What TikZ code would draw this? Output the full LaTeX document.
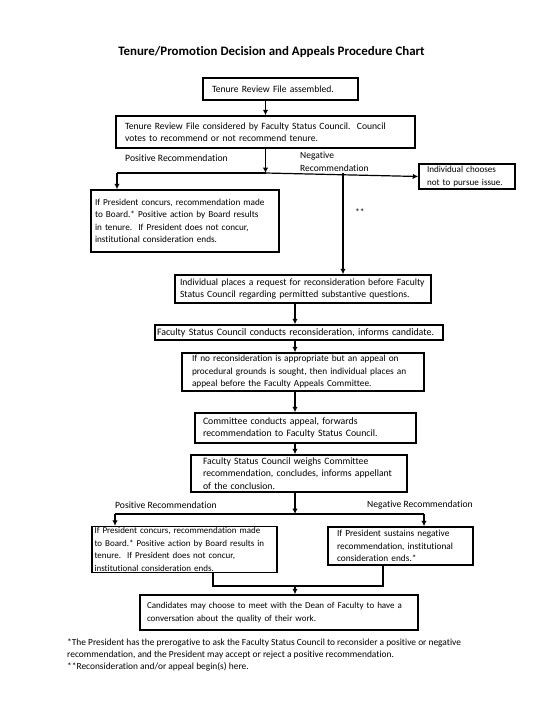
\documentclass[tikz,border=0pt]{standalone}
\usepackage{fontspec}
\setmainfont{Carlito}[Ligatures=NoCommon]
\usetikzlibrary{arrows.meta}
\begin{document}
\begin{tikzpicture}[x=1pt,y=-1pt,
  fs/.style={font=\fontsize{#1}{12.5}\selectfont},
  every node/.style={fs=9.5},
  box/.style={draw,line width=1.5pt,align=left,inner ysep=1pt,anchor=center},
  conn/.style={line width=1.2pt},
  arr/.style={conn,-{Latex[length=5.5pt,width=5.5pt]}},
  lbl/.style={anchor=west,inner sep=0pt,align=left}]
\useasboundingbox (0,0) rectangle (550,712);
\node[inner sep=0pt,font=\fontsize{12.9}{14}\selectfont\bfseries] (title) at (271.5,52) {Tenure/Promotion Decision and Appeals Procedure Chart};
\node[box,fs=9.6,minimum width=155,minimum height=22,inner xsep=9,text width=137] (b1) at (280.5,89) {Tenure Review File assembled.};
\node[box,fs=9.6,minimum width=299,minimum height=32,inner xsep=9,text width=281] (b2) at (265.5,132) {Tenure Review File considered by Faculty Status Council.\ \ Council\\votes to recommend or not recommend tenure.};
\node[box,fs=9.2,minimum width=188,minimum height=62,inner xsep=4,text width=180] (b3) at (185,221) {If President concurs, recommendation made\\to Board.* Positive action by Board results\\in tenure.\ \ If President does not concur,\\institutional consideration ends.};
\node[box,fs=9.1,minimum width=96,minimum height=25,inner xsep=8,text width=80] (bi) at (467,176.5) {Individual chooses\\not to pursue issue.};
\node[box,fs=9.6,minimum width=256,minimum height=28,inner xsep=5,text width=246] (b4) at (303,289) {Individual places a request for reconsideration before Faculty\\Status Council regarding permitted substantive questions.};
\node[box,fs=9.9,minimum width=288,minimum height=15,inner xsep=2,text width=284] (b5) at (299,332.5) {Faculty Status Council conducts reconsideration, informs candidate.};
\node[box,fs=9.3,minimum width=242,minimum height=38,inner xsep=10,text width=222] (b6) at (303,372) {If no reconsideration is appropriate but an appeal on\\procedural grounds is sought, then individual places an\\appeal before the Faculty Appeals Committee.};
\node[box,fs=9.8,minimum width=221,minimum height=30,inner xsep=8,text width=205] (b7) at (305.5,428) {Committee conducts appeal, forwards\\recommendation to Faculty Status Council.};
\node[box,fs=9.7,minimum width=216,minimum height=37,inner xsep=12,text width=192] (b8) at (299,473.5) {Faculty Status Council weighs Committee\\recommendation, concludes, informs appellant\\of the conclusion.};
\node[box,fs=9.0,minimum width=185,minimum height=43,inner xsep=2.5,text width=180] (b9) at (184.5,549.5) {If President concurs, recommendation made\\to Board.* Positive action by Board results in\\tenure.\ \ If President does not concur,\\institutional consideration ends.};
\node[box,fs=9.3,minimum width=145,minimum height=38,inner xsep=9,text width=127] (b10) at (400.5,546) {If President sustains negative\\recommendation, institutional\\consideration ends.*};
\node[box,fs=9.0,minimum width=278,minimum height=35,inner xsep=7,text width=264] (b11) at (279,612.5) {Candidates may choose to meet with the Dean of Faculty to have a\\conversation about the quality of their work.};
\node[lbl,anchor=north west,font=\fontsize{9.4}{11.6}\selectfont] (foot) at (67,639) {*The President has the prerogative to ask the Faculty Status Council to reconsider a positive or negative\\recommendation, and the President may accept or reject a positive recommendation.\\**Reconsideration and/or appeal begin(s) here.};
% labels
\node[lbl,fs=9.7] (pos1) at (125,158) {Positive Recommendation};
\node[lbl,fs=9.5] (neg1) at (300,162) {Negative\\Recommendation};
\node[lbl] (stars) at (355,212) {**};
\node[lbl,fs=9.6] (pos2) at (115,505) {Positive Recommendation};
\node[lbl,fs=9.6] (neg2) at (367,505) {Negative Recommendation};
% coordinates
\coordinate (j1) at (265.5,173);
\coordinate (jl) at (117,173);
\coordinate (jn) at (343,173);
\coordinate (sp) at (295,0);
\coordinate (j2) at (295,514);
\coordinate (j2l) at (115,514);
\coordinate (j2r) at (424,514);
\coordinate (j3l) at (213,586);
\coordinate (j3r) at (383,586);
\coordinate (j3) at (295,586);
% connectors
\draw[arr] (b1.south -| b2.north) -- (b2.north);
\draw[arr] (b2.south) -- (j1);
\draw[conn] (jl) -- (j1);
\draw[arr] (j1) -- (bi.west);
\draw[arr] (jl) -- (jl |- b3.north);
\draw[arr] (jn) -- (jn |- b4.north);
\draw[arr] (b4.south -| sp) -- (b5.north -| sp);
\draw[arr] (b5.south -| sp) -- (b6.north -| sp);
\draw[arr] (b6.south -| sp) -- (b7.north -| sp);
\draw[arr] (b7.south -| sp) -- (b8.north -| sp);
\draw[arr] (b8.south -| sp) -- (j2);
\draw[conn] (j2l) -- (j2r);
\draw[arr] (j2l) -- (j2l |- b9.north);
\draw[arr] (j2r) -- (j2r |- b10.north);
\draw[conn] (j3l |- b9.south) -- (j3l) -- (j3r) -- (j3r |- b10.south);
\draw[arr] (j3) -- (j3 |- b11.north);
\end{tikzpicture}
\end{document}
